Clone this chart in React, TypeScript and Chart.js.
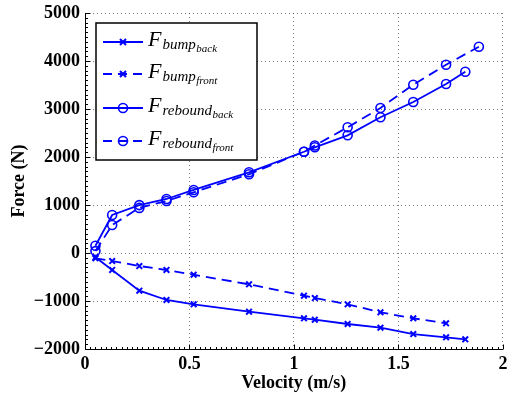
import React, { useEffect, useRef } from "react";
import { Chart, registerables } from "chart.js";

Chart.register(...registerables);

const velocityBack = [0.05, 0.13, 0.26, 0.39, 0.52, 0.785, 1.048, 1.1, 1.257, 1.414, 1.571, 1.728, 1.82];
const velocityFront = [0.05, 0.13, 0.26, 0.39, 0.52, 0.785, 1.048, 1.1, 1.257, 1.414, 1.571, 1.728, 1.885];
const bumpBack = [-90, -354, -785, -979, -1069, -1223, -1360, -1390, -1479, -1556, -1688, -1756, -1798];
const bumpFront = [-110, -167, -271, -354, -452, -652, -890, -938, -1069, -1235, -1360, -1465];
const reboundBack = [150, 792, 998, 1125, 1313, 1681, 2110, 2202, 2452, 2827, 3146, 3521, 3777];
const reboundFront = [40, 583, 940, 1083, 1265, 1640, 2110, 2240, 2619, 3021, 3506, 3923, 4298];

const legendMain = ["bump", "bump", "rebound", "rebound"];
const legendSub = ["back", "front", "back", "front"];

const BLUE = "#0000ff";
const SERIF = '"Liberation Serif", "Times New Roman", serif';

const toPoints = (xs: number[], ys: number[]) => ys.map((y, i) => ({ x: xs[i], y }));

function drawMarker(ctx: CanvasRenderingContext2D, kind: string, x: number, y: number) {
  ctx.save();
  ctx.strokeStyle = BLUE;
  ctx.setLineDash([]);
  if (kind === "cross") {
    ctx.lineWidth = 2;
    const r = 3;
    ctx.beginPath();
    ctx.moveTo(x - r, y - r);
    ctx.lineTo(x + r, y + r);
    ctx.moveTo(x - r, y + r);
    ctx.lineTo(x + r, y - r);
    ctx.stroke();
  } else {
    ctx.lineWidth = 1.6;
    ctx.beginPath();
    ctx.arc(x, y, 4.5, 0, Math.PI * 2);
    ctx.stroke();
  }
  ctx.restore();
}

const decorPlugin = {
  id: "decor",
  afterDraw(chart: any) {
    const ctx: CanvasRenderingContext2D = chart.ctx;
    const xs = chart.scales.x;
    const ys = chart.scales.y;
    const area = chart.chartArea;
    ctx.save();
    ctx.strokeStyle = "#000";
    ctx.lineWidth = 1;
    ctx.setLineDash([]);
    // axis lines
    const ax = Math.round(area.left) + 0.5;
    const ay = Math.round(area.bottom) + 0.5;
    ctx.beginPath();
    ctx.moveTo(ax, area.top);
    ctx.lineTo(ax, ay);
    ctx.lineTo(area.right, ay);
    ctx.stroke();
    // inward ticks on x axis
    for (let i = 0; i <= 80; i++) {
      const v = i * 0.025;
      const px = Math.round(xs.getPixelForValue(v)) + 0.5;
      const len = i % 20 === 0 ? 5 : 2.5;
      ctx.beginPath();
      ctx.moveTo(px, ay);
      ctx.lineTo(px, ay - len);
      ctx.stroke();
    }
    // inward ticks on y axis
    for (let i = 0; i <= 70; i++) {
      const v = -2000 + i * 100;
      const py = Math.round(ys.getPixelForValue(v)) + 0.5;
      const len = i % 10 === 0 ? 5 : 2.5;
      ctx.beginPath();
      ctx.moveTo(ax, py);
      ctx.lineTo(ax + len, py);
      ctx.stroke();
    }
    ctx.restore();

    // legend
    const bx = 96, by = 23, bw = 161, bh = 137;
    ctx.save();
    ctx.setLineDash([]);
    ctx.fillStyle = "#fff";
    ctx.fillRect(bx, by, bw, bh);
    ctx.strokeStyle = "#000";
    ctx.lineWidth = 1.5;
    ctx.strokeRect(bx, by, bw, bh);
    const rows = [42, 74, 108, 141];
    const dashed = [false, true, false, true];
    const markers = ["cross", "cross", "circle", "circle"];
    rows.forEach((ry, i) => {
      ctx.save();
      ctx.strokeStyle = BLUE;
      ctx.lineWidth = 1.8;
      ctx.setLineDash(dashed[i] ? [9, 6] : []);
      ctx.beginPath();
      ctx.moveTo(103, ry);
      ctx.lineTo(143, ry);
      ctx.stroke();
      ctx.restore();
      drawMarker(ctx, markers[i], 123, ry);
      ctx.fillStyle = "#000";
      ctx.textBaseline = "alphabetic";
      ctx.textAlign = "left";
      ctx.font = `italic 22px ${SERIF}`;
      let tx = 148;
      ctx.fillText("F", tx, ry + 4);
      tx += ctx.measureText("F").width + 1;
      ctx.font = `italic 15px ${SERIF}`;
      ctx.fillText(legendMain[i], tx, ry + 7);
      tx += ctx.measureText(legendMain[i]).width + 0.5;
      ctx.font = `italic 11px ${SERIF}`;
      ctx.fillText(legendSub[i], tx, ry + 10);
    });
    ctx.restore();
  },
};

export default function App() {
  const ref = useRef<HTMLCanvasElement | null>(null);
  useEffect(() => {
    if (!ref.current) return;
    const tickFont = { family: SERIF, size: 18, weight: "bold" as const };
    const gridOpts = { color: "rgba(0,0,0,0.5)", drawTicks: false, lineWidth: 1 };
    const borderOpts = { display: false, dash: [1, 3] };
    const chart = new Chart(ref.current, {
      type: "line",
      data: {
        datasets: [
          {
            label: "F_bump_back",
            data: toPoints(velocityBack, bumpBack),
            borderColor: BLUE,
            borderWidth: 1.8,
            pointStyle: "crossRot",
            pointRadius: 4,
            pointBorderWidth: 2,
            pointBorderColor: BLUE,
            pointBackgroundColor: BLUE,
            tension: 0,
          },
          {
            label: "F_bump_front",
            data: toPoints(velocityFront, bumpFront),
            borderColor: BLUE,
            borderWidth: 1.8,
            borderDash: [10, 6],
            pointStyle: "crossRot",
            pointRadius: 4,
            pointBorderWidth: 2,
            pointBorderColor: BLUE,
            pointBackgroundColor: BLUE,
            tension: 0,
          },
          {
            label: "F_rebound_back",
            data: toPoints(velocityBack, reboundBack),
            borderColor: BLUE,
            borderWidth: 1.8,
            pointStyle: "circle",
            pointRadius: 4.5,
            pointBorderWidth: 1.6,
            pointBorderColor: BLUE,
            pointBackgroundColor: "rgba(0,0,0,0)",
            tension: 0,
          },
          {
            label: "F_rebound_front",
            data: toPoints(velocityFront, reboundFront),
            borderColor: BLUE,
            borderWidth: 1.8,
            borderDash: [10, 6],
            pointStyle: "circle",
            pointRadius: 4.5,
            pointBorderWidth: 1.6,
            pointBorderColor: BLUE,
            pointBackgroundColor: "rgba(0,0,0,0)",
            tension: 0,
          },
        ],
      },
      options: {
        animation: false,
        responsive: false,
        events: [],
        layout: { padding: { top: 13, right: 4, left: 0, bottom: 0 } },
        plugins: { legend: { display: false }, tooltip: { enabled: false } },
        scales: {
          x: {
            type: "linear",
            min: 0,
            max: 2,
            ticks: {
              stepSize: 0.5,
              font: tickFont,
              color: "#000",
              padding: 5,
              maxRotation: 0,
              callback: (v: any) => String(v),
            },
            grid: gridOpts,
            border: borderOpts,
            title: { display: true, text: "Velocity (m/s)", font: tickFont, color: "#000", padding: { top: 0, bottom: 4 } },
            afterFit: (s: any) => {
              s.height = 49;
              s.paddingLeft = 0;
              s.paddingRight = 0;
            },
          },
          y: {
            type: "linear",
            min: -2000,
            max: 5000,
            ticks: {
              stepSize: 1000,
              font: tickFont,
              color: "#000",
              padding: 5,
              callback: (v: any) => String(v).replace("-", "\u2212"),
            },
            grid: gridOpts,
            border: borderOpts,
            title: { display: true, text: "Force (N)", font: tickFont, color: "#000", padding: { top: 9, bottom: 0 } },
            afterFit: (s: any) => {
              s.width = 85;
              s.paddingTop = 0;
              s.paddingBottom = 0;
            },
          },
        },
      },
      plugins: [decorPlugin],
    });
    return () => chart.destroy();
  }, []);
  return (
    <div style={{ position: "absolute", left: 0, top: 0, width: 509, height: 398, background: "#fff" }}>
      <canvas ref={ref} width={509} height={398} style={{ display: "block" }} />
    </div>
  );
}
